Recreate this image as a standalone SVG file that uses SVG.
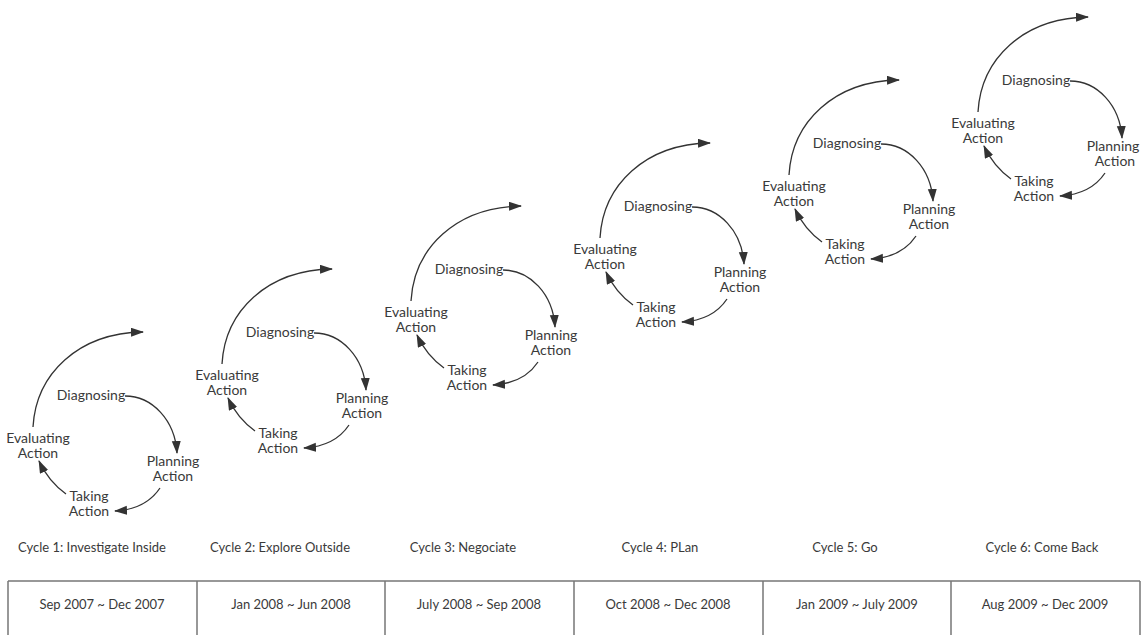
<svg xmlns="http://www.w3.org/2000/svg" width="1141" height="635" viewBox="0 0 1141 635">
<style>
text{font-family:Lato,"Open Sans","Liberation Sans",sans-serif;fill:#3a3a3a}
.lbl{font-size:14px;text-anchor:middle}
.cap{font-size:13px;text-anchor:middle}
.date{font-size:13px;text-anchor:middle}
.con{fill:none;stroke:#333;stroke-width:1.3;marker-end:url(#ah)}
.tbl{fill:none;stroke:#777;stroke-width:1.5}
</style>
<defs>
<marker id="ah" markerUnits="userSpaceOnUse" markerWidth="14" markerHeight="10" refX="12" refY="4.5" orient="auto">
<path d="M0,0 L13,4.5 L0,9 z" fill="#333"/>
</marker>
</defs>
<rect width="1141" height="635" fill="#fff"/>
<g id="cycle1" transform="translate(0,0)">
<g id="c1-diagnosing"><text class="lbl" x="91" y="400">Diagnosing</text></g>
<g id="c1-planning"><text class="lbl" x="173" y="466">Planning</text><text class="lbl" x="173" y="481">Action</text></g>
<g id="c1-taking"><text class="lbl" x="89" y="501">Taking</text><text class="lbl" x="89" y="516">Action</text></g>
<g id="c1-evaluating"><text class="lbl" x="38" y="443">Evaluating</text><text class="lbl" x="38" y="458">Action</text></g>
<g id="c1-connectors">
<path class="con" d="M33,427 C36,374 78,333 143,332"/>
<path class="con" d="M125,396 C152,396 175,420 177,453"/>
<path class="con" d="M160,488 C150,503 133,510 115,511"/>
<path class="con" d="M66,494 C55,486 45,474 39,461"/>
</g>
</g>
<g id="cycle2" transform="translate(189,-63)">
<g id="c2-diagnosing"><text class="lbl" x="91" y="400">Diagnosing</text></g>
<g id="c2-planning"><text class="lbl" x="173" y="466">Planning</text><text class="lbl" x="173" y="481">Action</text></g>
<g id="c2-taking"><text class="lbl" x="89" y="501">Taking</text><text class="lbl" x="89" y="516">Action</text></g>
<g id="c2-evaluating"><text class="lbl" x="38" y="443">Evaluating</text><text class="lbl" x="38" y="458">Action</text></g>
<g id="c2-connectors">
<path class="con" d="M33,427 C36,374 78,333 143,332"/>
<path class="con" d="M125,396 C152,396 175,420 177,453"/>
<path class="con" d="M160,488 C150,503 133,510 115,511"/>
<path class="con" d="M66,494 C55,486 45,474 39,461"/>
</g>
</g>
<g id="cycle3" transform="translate(378,-126)">
<g id="c3-diagnosing"><text class="lbl" x="91" y="400">Diagnosing</text></g>
<g id="c3-planning"><text class="lbl" x="173" y="466">Planning</text><text class="lbl" x="173" y="481">Action</text></g>
<g id="c3-taking"><text class="lbl" x="89" y="501">Taking</text><text class="lbl" x="89" y="516">Action</text></g>
<g id="c3-evaluating"><text class="lbl" x="38" y="443">Evaluating</text><text class="lbl" x="38" y="458">Action</text></g>
<g id="c3-connectors">
<path class="con" d="M33,427 C36,374 78,333 143,332"/>
<path class="con" d="M125,396 C152,396 175,420 177,453"/>
<path class="con" d="M160,488 C150,503 133,510 115,511"/>
<path class="con" d="M66,494 C55,486 45,474 39,461"/>
</g>
</g>
<g id="cycle4" transform="translate(567,-189)">
<g id="c4-diagnosing"><text class="lbl" x="91" y="400">Diagnosing</text></g>
<g id="c4-planning"><text class="lbl" x="173" y="466">Planning</text><text class="lbl" x="173" y="481">Action</text></g>
<g id="c4-taking"><text class="lbl" x="89" y="501">Taking</text><text class="lbl" x="89" y="516">Action</text></g>
<g id="c4-evaluating"><text class="lbl" x="38" y="443">Evaluating</text><text class="lbl" x="38" y="458">Action</text></g>
<g id="c4-connectors">
<path class="con" d="M33,427 C36,374 78,333 143,332"/>
<path class="con" d="M125,396 C152,396 175,420 177,453"/>
<path class="con" d="M160,488 C150,503 133,510 115,511"/>
<path class="con" d="M66,494 C55,486 45,474 39,461"/>
</g>
</g>
<g id="cycle5" transform="translate(756,-252)">
<g id="c5-diagnosing"><text class="lbl" x="91" y="400">Diagnosing</text></g>
<g id="c5-planning"><text class="lbl" x="173" y="466">Planning</text><text class="lbl" x="173" y="481">Action</text></g>
<g id="c5-taking"><text class="lbl" x="89" y="501">Taking</text><text class="lbl" x="89" y="516">Action</text></g>
<g id="c5-evaluating"><text class="lbl" x="38" y="443">Evaluating</text><text class="lbl" x="38" y="458">Action</text></g>
<g id="c5-connectors">
<path class="con" d="M33,427 C36,374 78,333 143,332"/>
<path class="con" d="M125,396 C152,396 175,420 177,453"/>
<path class="con" d="M160,488 C150,503 133,510 115,511"/>
<path class="con" d="M66,494 C55,486 45,474 39,461"/>
</g>
</g>
<g id="cycle6" transform="translate(945,-315)">
<g id="c6-diagnosing"><text class="lbl" x="91" y="400">Diagnosing</text></g>
<g id="c6-planning"><text class="lbl" x="168" y="466">Planning</text><text class="lbl" x="170" y="481">Action</text></g>
<g id="c6-taking"><text class="lbl" x="89" y="501">Taking</text><text class="lbl" x="89" y="516">Action</text></g>
<g id="c6-evaluating"><text class="lbl" x="38" y="443">Evaluating</text><text class="lbl" x="38" y="458">Action</text></g>
<g id="c6-connectors">
<path class="con" d="M33,427 C36,374 78,333 143,332"/>
<path class="con" d="M125,396 C152,396 175,420 177,453"/>
<path class="con" d="M160,488 C150,503 133,510 115,511"/>
<path class="con" d="M66,494 C55,486 45,474 39,461"/>
</g>
</g>
<g id="captions">
<text class="cap" x="92" y="552">Cycle 1: Investigate Inside</text>
<text class="cap" x="280" y="552">Cycle 2: Explore Outside</text>
<text class="cap" x="463" y="552">Cycle 3: Negociate</text>
<text class="cap" x="660" y="552">Cycle 4: PLan</text>
<text class="cap" x="845" y="552">Cycle 5: Go</text>
<text class="cap" x="1042" y="552">Cycle 6: Come Back</text>
</g>
<g id="timeline">
<path class="tbl" d="M8,581 H1140 M8,581 V635 M197,581 V635 M385,581 V635 M574,581 V635 M763,581 V635 M951,581 V635 M1140,581 V635"/>
<text class="date" x="102" y="609">Sep 2007 ~ Dec 2007</text>
<text class="date" x="291" y="609">Jan 2008 ~ Jun 2008</text>
<text class="date" x="479" y="609">July 2008 ~ Sep 2008</text>
<text class="date" x="668" y="609">Oct 2008 ~ Dec 2008</text>
<text class="date" x="857" y="609">Jan 2009 ~ July 2009</text>
<text class="date" x="1045" y="609">Aug 2009 ~ Dec 2009</text>
</g>
</svg>
